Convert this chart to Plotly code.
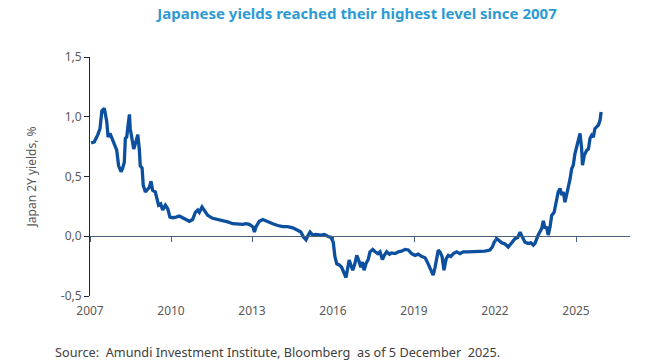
import plotly.graph_objects as go

# Decimal-year dates and Japan 2Y yields (%)
years = [
    2007.04, 2007.16, 2007.29, 2007.37, 2007.44, 2007.53, 2007.62, 2007.67, 2007.74, 2007.81,
    2007.90, 2007.99, 2008.06, 2008.15, 2008.21, 2008.27, 2008.31, 2008.36, 2008.41, 2008.46,
    2008.49, 2008.56, 2008.62, 2008.70, 2008.77, 2008.83, 2008.86, 2008.93, 2008.97, 2009.05,
    2009.14, 2009.20, 2009.26, 2009.32, 2009.42, 2009.47, 2009.54, 2009.62, 2009.69, 2009.79,
    2009.88, 2009.96, 2010.06, 2010.19, 2010.31, 2010.43, 2010.56, 2010.68, 2010.80, 2010.90,
    2010.99, 2011.05, 2011.15, 2011.23, 2011.36, 2011.54, 2011.73, 2011.91, 2012.10, 2012.29,
    2012.47, 2012.66, 2012.78, 2012.90, 2013.03, 2013.09, 2013.15, 2013.27, 2013.40, 2013.58,
    2013.77, 2013.95, 2014.14, 2014.32, 2014.51, 2014.69, 2014.81, 2014.90, 2015.00, 2015.06,
    2015.15, 2015.25, 2015.37, 2015.56, 2015.68, 2015.80, 2015.93, 2016.01, 2016.07, 2016.14,
    2016.23, 2016.32, 2016.41, 2016.48, 2016.53, 2016.60, 2016.66, 2016.73, 2016.81, 2016.88,
    2016.95, 2017.03, 2017.09, 2017.15, 2017.22, 2017.31, 2017.37, 2017.47, 2017.56, 2017.66,
    2017.74, 2017.83, 2017.90, 2017.99, 2018.09, 2018.17, 2018.30, 2018.42, 2018.54, 2018.67,
    2018.79, 2018.91, 2019.04, 2019.16, 2019.29, 2019.41, 2019.49, 2019.59, 2019.66, 2019.71,
    2019.78, 2019.84, 2019.90, 2019.96, 2020.04, 2020.11, 2020.19, 2020.27, 2020.36, 2020.46,
    2020.58, 2020.70, 2020.83, 2021.01, 2021.07, 2021.26, 2021.44, 2021.63, 2021.81, 2021.90,
    2021.97, 2022.06, 2022.15, 2022.25, 2022.37, 2022.49, 2022.62, 2022.74, 2022.84, 2022.93,
    2023.01, 2023.11, 2023.23, 2023.33, 2023.42, 2023.48, 2023.60, 2023.73, 2023.79, 2023.85,
    2023.91, 2023.97, 2024.04, 2024.10, 2024.19, 2024.26, 2024.34, 2024.41, 2024.47, 2024.53,
    2024.59, 2024.66, 2024.71, 2024.78, 2024.84, 2024.90, 2024.96, 2025.03, 2025.09, 2025.15,
    2025.21, 2025.24, 2025.31, 2025.40, 2025.46, 2025.52, 2025.58, 2025.64, 2025.70, 2025.77,
    2025.83, 2025.89, 2025.93,
]
yields = [
    0.78, 0.79, 0.85, 0.90, 1.05, 1.07, 0.96, 0.83, 0.86, 0.82,
    0.76, 0.72, 0.59, 0.54, 0.57, 0.62, 0.82, 0.83, 0.93, 1.02,
    0.90, 0.79, 0.73, 0.79, 0.85, 0.72, 0.59, 0.57, 0.43, 0.37,
    0.40, 0.41, 0.46, 0.385, 0.37, 0.315, 0.26, 0.27, 0.22, 0.26,
    0.23, 0.16, 0.155, 0.16, 0.17, 0.155, 0.14, 0.125, 0.14, 0.20,
    0.22, 0.20, 0.245, 0.22, 0.175, 0.15, 0.14, 0.135, 0.12, 0.105,
    0.10, 0.10, 0.105, 0.10, 0.08, 0.035, 0.08, 0.125, 0.14, 0.12,
    0.105, 0.09, 0.08, 0.08, 0.07, 0.05, 0.035, -0.005, -0.03, 0.0,
    0.035, 0.01, 0.015, 0.01, 0.015, 0.0, -0.01, -0.05, -0.17, -0.23,
    -0.24, -0.26, -0.30, -0.345, -0.285, -0.20, -0.24, -0.285, -0.23, -0.16,
    -0.20, -0.26, -0.215, -0.285, -0.23, -0.19, -0.13, -0.11, -0.13, -0.145,
    -0.13, -0.195, -0.16, -0.13, -0.15, -0.14, -0.145, -0.13, -0.125, -0.11,
    -0.115, -0.145, -0.16, -0.15, -0.17, -0.18, -0.215, -0.27, -0.31, -0.325,
    -0.26, -0.17, -0.115, -0.13, -0.17, -0.285, -0.19, -0.16, -0.17, -0.145,
    -0.13, -0.145, -0.13, -0.13, -0.13, -0.125, -0.13, -0.125, -0.115, -0.09,
    -0.05, -0.02, -0.035, -0.055, -0.065, -0.09, -0.055, -0.02, -0.01, 0.035,
    -0.005, -0.05, -0.06, -0.055, -0.075, -0.06, 0.01, 0.065, 0.13, 0.065,
    0.08, 0.01, 0.08, 0.175, 0.20, 0.285, 0.37, 0.40, 0.345, 0.37,
    0.285, 0.355, 0.40, 0.48, 0.565, 0.595, 0.69, 0.76, 0.83, 0.86,
    0.73, 0.595, 0.68, 0.72, 0.73, 0.82, 0.845, 0.83, 0.90, 0.915,
    0.93, 0.97, 1.04,
]

x_tick_years = [2007, 2010, 2013, 2016, 2019, 2022, 2025]
x_tick_labels = ["2007", "2010", "2013", "2016", "2019", "2022", "2025"]
y_tick_vals = [-0.5, 0.0, 0.5, 1.0, 1.5]
y_tick_labels = ["-0,5", "0,0", "0,5", "1,0", "1,5"]

title_text = "Japanese yields reached their highest level since 2007"
y_title = "Japan 2Y yields, %"
source_text = "Source:\u00a0 Amundi Investment Institute, Bloomberg\u00a0 as of 5 December\u00a0 2025."

FONT = "Noto Sans"
GREY = "#595959"

fig = go.Figure()
fig.add_trace(go.Scatter(
    x=years, y=yields, mode="lines",
    line=dict(color="#0B4F9E", width=3.3),
    hoverinfo="skip", showlegend=False,
))

fig.update_layout(
    width=648, height=364,
    margin=dict(l=90, r=18, t=57, b=68),
    paper_bgcolor="white", plot_bgcolor="white",
    font=dict(family=FONT, size=12, color=GREY),
    title=dict(
        text="<b>" + title_text + "</b>",
        x=0.551, xanchor="center", y=0.962, yanchor="middle",
        font=dict(family=FONT, size=15, color="#2E9AD3"),
    ),
    xaxis=dict(
        range=[2007, 2027],
        tickvals=x_tick_years, ticktext=x_tick_labels,
        showline=False, showgrid=False, zeroline=False, ticks="",
        ticklabelstandoff=6,
        tickfont=dict(family=FONT, size=12, color=GREY),
    ),
    xaxis2=dict(
        range=[2007, 2027], overlaying="x", anchor="free", position=0.25,
        tickvals=x_tick_years, showticklabels=False,
        showline=True, linecolor="#4A5F7A", linewidth=1,
        ticks="outside", ticklen=5, tickcolor="#4A5F7A",
        showgrid=False, zeroline=False,
    ),
    yaxis=dict(
        range=[-0.5, 1.5],
        tickvals=y_tick_vals, ticktext=y_tick_labels,
        showline=True, linecolor="#1F2440", linewidth=1,
        ticks="outside", ticklen=5, tickcolor="#1F2440",
        showgrid=False, zeroline=False,
        tickfont=dict(family=FONT, size=12, color=GREY),
        title=dict(text=y_title, font=dict(family=FONT, size=12, color=GREY), standoff=21),
    ),
)

# invisible trace so the zero-line axis (xaxis2) renders
fig.add_trace(go.Scatter(x=[2007], y=[None], xaxis="x2", yaxis="y",
                         mode="lines", hoverinfo="skip", showlegend=False))

fig.add_annotation(
    text=source_text, xref="paper", yref="paper",
    x=-37 / 540, y=-56 / 239, xanchor="left", yanchor="middle",
    showarrow=False, font=dict(family=FONT, size=12.7, color="#404040"),
)

fig.write_html("out.html", config={"displayModeBar": False},
               post_script="document.body.style.margin='0';")
